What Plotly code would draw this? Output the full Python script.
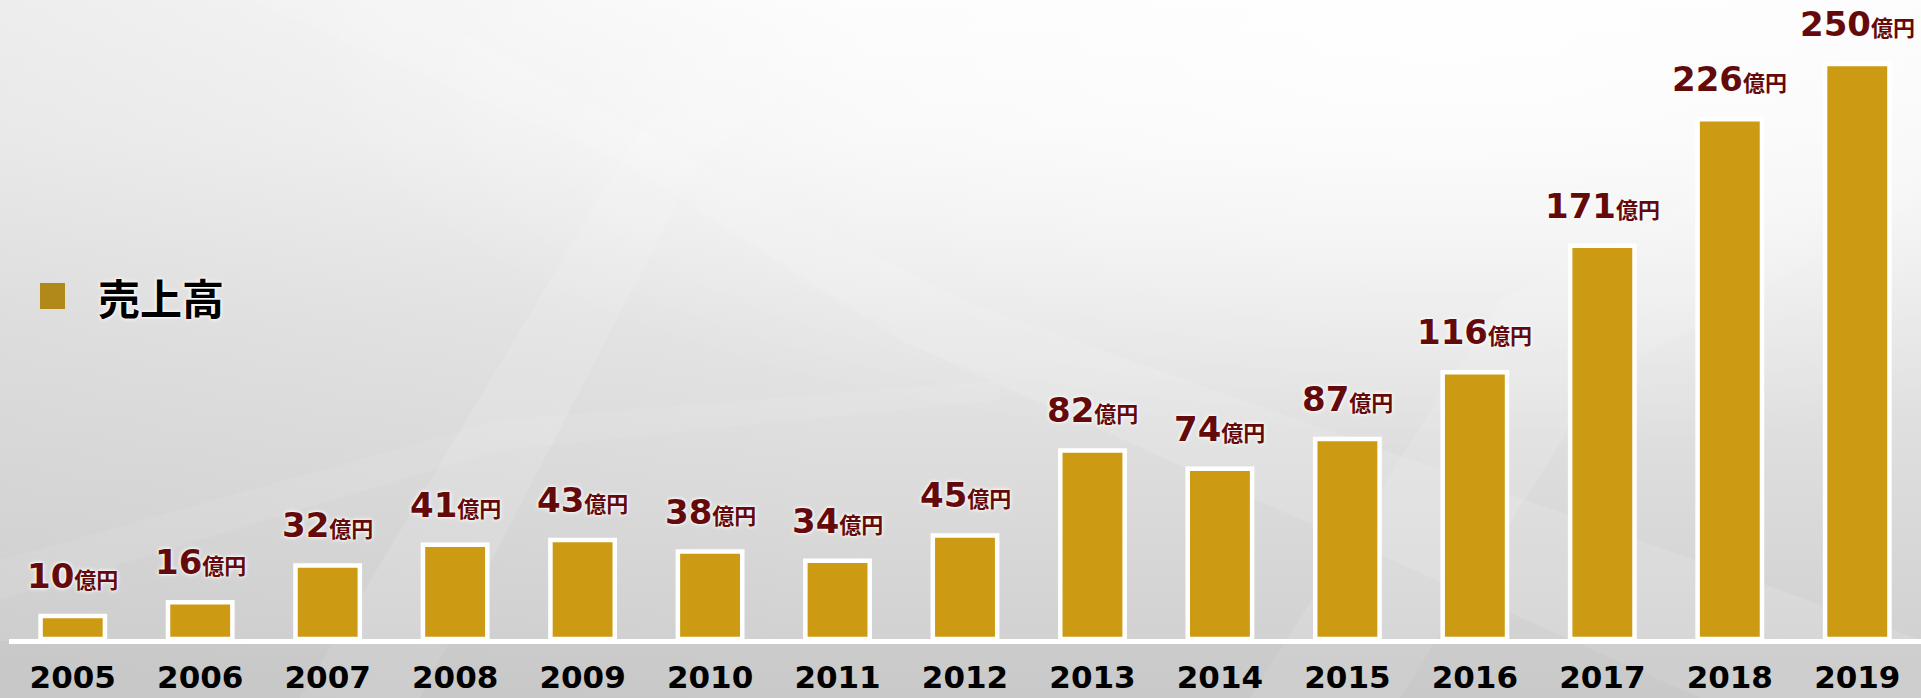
import base64
import plotly.graph_objects as go

# ---- data ----
years = ["2005", "2006", "2007", "2008", "2009", "2010", "2011", "2012",
         "2013", "2014", "2015", "2016", "2017", "2018", "2019"]
sales = [10, 16, 32, 41, 43, 38, 34, 45, 82, 74, 87, 116, 171, 226, 250]
unit = "億円"
series_name = "売上高"

# ---- geometry / style ----
W, H = 1921, 698
ML, MR, MT, MB = 9, 0, 0, 59
PW, PH = W - ML - MR, H - MT - MB

BAR_COLOR = "#CD9B13"
LEGEND_COLOR = "#B0891A"
LABEL_COLOR = "#650A0A"
GLOW = "0px 0px 3px #ffffff, 0px 0px 5px #ffffff"


def px_to_paper(x, y):
    return (x - ML) / PW, (MT + PH - y) / PH


# background as an svg image (decoration only)
svg = f"""<svg xmlns="http://www.w3.org/2000/svg" width="{W}" height="{H}" viewBox="0 0 {W} {H}">
<defs>
<linearGradient id="g" x1="0" y1="0" x2="0" y2="1">
<stop offset="0" stop-color="#fbfbfb"/>
<stop offset="0.2" stop-color="#f5f5f5"/>
<stop offset="0.45" stop-color="#e6e6e6"/>
<stop offset="0.75" stop-color="#d9d9d9"/>
<stop offset="1" stop-color="#cecece"/>
</linearGradient>
<radialGradient id="r" cx="0.75" cy="0.05" r="0.6">
<stop offset="0" stop-color="#ffffff" stop-opacity="0.85"/>
<stop offset="1" stop-color="#ffffff" stop-opacity="0"/>
</radialGradient>
<linearGradient id="l" x1="0" y1="0" x2="1" y2="0">
<stop offset="0" stop-color="#c4c4c4" stop-opacity="0.25"/>
<stop offset="0.45" stop-color="#c4c4c4" stop-opacity="0"/>
</linearGradient>
</defs>
<rect width="{W}" height="{H}" fill="url(#g)"/>
<rect width="{W}" height="{H}" fill="url(#l)"/>
<rect width="{W}" height="{H}" fill="url(#r)"/>
<polygon points="400,0 640,130 960,300 1921,640 1921,698 1700,698 900,340 620,160 250,0" fill="#ffffff" opacity="0.12"/>
<polygon points="300,698 640,130 800,0 900,0 700,160 420,698" fill="#ffffff" opacity="0.12"/>
<polygon points="1250,698 1500,300 1921,80 1921,200 1600,380 1400,698" fill="#ffffff" opacity="0.12"/>
<polygon points="0,560 500,420 1000,380 1000,400 500,450 0,600" fill="#ffffff" opacity="0.08"/>
<rect x="0" y="641" width="{W}" height="{H - 641}" fill="#bdbdbd" opacity="0.25"/>
</svg>"""
svg_uri = "data:image/svg+xml;base64," + base64.b64encode(svg.encode("utf-8")).decode()

fig = go.Figure()
fig.add_trace(go.Bar(
    x=years, y=sales, name=series_name,
    marker=dict(color=BAR_COLOR, line=dict(color="#ffffff", width=4.5)),
    showlegend=False, hoverinfo="x+y",
))

annotations = []
for i, v in enumerate(sales):
    annotations.append(dict(
        x=i, y=v, xref="x", yref="y",
        text=f"{v}<span style='font-size:22px'>{unit}</span>",
        showarrow=False, yanchor="bottom", xanchor="center", yshift=18,
        font=dict(family="DejaVu Sans, Noto Sans CJK JP", size=34,
                  color=LABEL_COLOR, weight="bold", shadow=GLOW),
    ))

# legend (drawn manually: square + name)
lx0, ly0 = px_to_paper(40, 309)
lx1, ly1 = px_to_paper(65, 283)
tx, ty = px_to_paper(96, 296)
annotations.append(dict(
    x=tx, y=ty, xref="paper", yref="paper", xanchor="left", yanchor="middle",
    text=series_name, showarrow=False,
    font=dict(family="Noto Sans CJK JP", size=42, color="#000000",
              weight="bold", shadow=GLOW),
))

bx, by = px_to_paper(0, H)
fig.update_layout(
    width=W, height=H,
    margin=dict(l=ML, r=MR, t=MT, b=MB, pad=0),
    paper_bgcolor="#e4e4e4",
    plot_bgcolor="rgba(0,0,0,0)",
    bargap=0.495,
    showlegend=False,
    xaxis=dict(
        type="category", range=[-0.5, len(years) - 0.5],
        showline=True, linecolor="#ffffff", linewidth=5,
        showgrid=False, zeroline=False, automargin=False,
        ticks="outside", ticklen=7, tickcolor="rgba(0,0,0,0)",
        tickfont=dict(family="DejaVu Sans", size=31, color="#000000", weight="bold"),
        fixedrange=True,
    ),
    yaxis=dict(
        range=[0, 277.8], visible=False, showgrid=False, zeroline=False,
        automargin=False, fixedrange=True,
    ),
    annotations=annotations,
    shapes=[dict(type="rect", xref="paper", yref="paper",
                 x0=lx0, x1=lx1, y0=ly0, y1=ly1,
                 fillcolor=LEGEND_COLOR, line=dict(width=0))],
    images=[dict(source=svg_uri, xref="paper", yref="paper",
                 x=bx, y=1 + MT / PH, sizex=W / PW, sizey=H / PH,
                 xanchor="left", yanchor="top", sizing="stretch",
                 layer="below")],
)

fig.write_html(
    "out.html",
    config={"displayModeBar": False},
    post_script="document.body.style.margin='0';document.body.style.overflow='hidden';",
)
